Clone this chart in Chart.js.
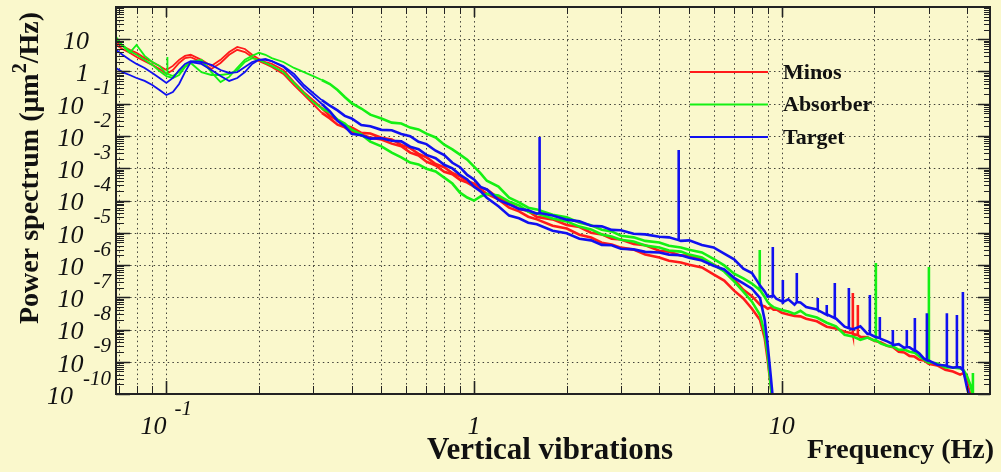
<!DOCTYPE html>
<html>
<head>
<meta charset="utf-8">
<script src="https://cdn.jsdelivr.net/npm/chart.js@4.4.1/dist/chart.umd.min.js"></script>
<style>
  html, body { margin: 0; padding: 0; background: #faf8cc; }
  #wrap { width: 1001px; height: 472px; }
</style>
</head>
<body>
<div id="wrap"><canvas id="psd" width="1001" height="472"></canvas></div>
<script>
// frequency grid (Hz) shared by all traces
const freq = [0.0686, 0.072, 0.076, 0.08, 0.085, 0.09, 0.095, 0.1, 0.105, 0.11, 0.115, 0.12,
  0.13, 0.14, 0.15, 0.16, 0.17, 0.18, 0.19, 0.2, 0.21, 0.22,
  0.24, 0.26, 0.28, 0.3, 0.32, 0.34, 0.36, 0.38, 0.4,
  0.43, 0.46, 0.5, 0.54, 0.58, 0.62, 0.66, 0.7, 0.75, 0.8, 0.85, 0.9, 0.95, 1.0,
  1.05, 1.1, 1.2, 1.3, 1.4, 1.5, 1.6, 1.8, 2.0,
  2.2, 2.4, 2.6, 2.8, 3.0, 3.3, 3.6, 4.0, 4.3, 4.7, 5.0, 5.5, 6.0, 6.5, 7.0, 7.5, 8.0, 8.5, 8.8, 9.0, 9.2, 9.4, 9.6, 10,
  10.5, 11, 11.5, 12, 13, 14, 15, 16, 17, 18, 19, 20,
  21, 22, 23, 24, 25, 26, 27, 28, 29, 30,
  32, 34, 36, 38, 39, 40, 41, 42];

// power spectra, um^2/Hz
const minos1 = [8.2, 6.2, 4.7, 3.8, 2.6, 1.97, 1.49, 1.11, 1.49, 2.3, 3.05, 3.3,
  2.3, 1.49, 2.3, 4.0, 5.8, 5.0, 3.3, 2.45, 1.97, 1.72,
  1.11, 0.47, 0.23, 0.13, 7.4e-2, 4.15e-2, 3.1e-2, 2.1e-2, 1.85e-2,
  1.25e-2, 1.2e-2, 8.8e-3, 7.8e-3, 5.3e-3, 4.2e-3, 2.8e-3, 2.2e-3, 1.35e-3, 1.08e-3, 7.1e-4, 5.6e-4, 4.0e-4, 3.3e-4,
  2.5e-4, 2.2e-4, 1.2e-4, 8.3e-5, 5.5e-5, 4.7e-5, 3.1e-5, 2.6e-5, 1.75e-5,
  1.5e-5, 1.0e-5, 8.9e-6, 6.5e-6, 6.2e-6, 4.5e-6, 4.1e-6, 2.75e-6, 2.6e-6, 1.95e-6, 2.0e-6, 1.45e-6, 1.05e-6, 6.6e-7, 3.6e-7, 1.7e-7, 1.08e-7, 5.8e-8, 5.2e-8, 4.4e-8, 4.8e-8, 4.1e-8, 4.2e-8, 3.3e-8,
  2.9e-8, 2.65e-8, 2.55e-8, 2.15e-8, 1.8e-8, 1.22e-8, 1.08e-8, 8.5e-9, 7.6e-9, 5.9e-9, 5.7e-9, 4.5e-9,
  3.95e-9, 3.15e-9, 2.8e-9, 2.05e-9, 1.95e-9, 1.52e-9, 1.45e-9, 1.15e-9, 1.1e-9, 8.7e-10,
  7.7e-10, 5.6e-10, 5.0e-10, 4.0e-10, 4.45e-10, 2.35e-10, 9.2e-11, null];
const minos2 = [6.7, 5.0, 3.8, 2.8, 2.1, 1.6, 1.2, 0.84, 1.11, 1.84, 2.6, 2.8,
  1.97, 1.2, 1.84, 3.3, 4.7, 4.0, 2.8, 2.1, 1.72, 1.39,
  0.84, 0.38, 0.187, 9.8e-2, 5.2e-2, 3.5e-2, 2.25e-2, 1.85e-2, 1.35e-2,
  1.12e-2, 8.9e-3, 7.8e-3, 5.8e-3, 4.8e-3, 3.05e-3, 2.5e-3, 1.6e-3, 1.22e-3, 7.8e-4, 6.5e-4, 4.4e-4, 3.6e-4, 2.7e-4,
  2.2e-4, 1.6e-4, 1.08e-4, 6.0e-5, 4.6e-5, 3.15e-5, 2.6e-5, 1.66e-5, 1.35e-5,
  8.7e-6, 7.1e-6, 4.9e-6, 4.3e-6, 3.45e-6, 3.0e-6, 2.1e-6, 1.7e-6, 1.36e-6, 1.2e-6, 1.02e-6, 8.4e-7, 5.1e-7, 3.3e-7, 1.6e-7, 9.2e-8, 4.4e-8, 1.96e-8, 5.4e-9, 1.12e-9, 1.9e-10, 3.2e-11];
const absorber1 = [12, 6.2, 3.8, 6.7, 3.05, 1.97, 1.49, 0.84, 0.72, 0.96, 1.49, 1.97,
  2.3, 0.96, 0.47, 0.68, 1.29, 2.3, 3.05, 3.8, 3.3, 2.6,
  1.97, 1.29, 0.96, 0.72, 0.545, 0.41, 0.267, 0.162, 0.105,
  7.1e-2, 4.6e-2, 3.5e-2, 2.6e-2, 2.45e-2, 1.82e-2, 1.6e-2, 1.18e-2, 9.0e-3, 5.4e-3, 3.85e-3, 2.65e-3, 1.85e-3, 1.12e-3,
  6.9e-4, 4.1e-4, 2.7e-4, 1.22e-4, 8.8e-5, 6.0e-5, 5.3e-5, 3.6e-5, 3.0e-5,
  2.05e-5, 1.7e-5, 1.24e-5, 1.1e-5, 8.1e-6, 7.2e-6, 5.6e-6, 5.0e-6, 3.95e-6, 3.5e-6, 2.95e-6, 2.45e-6, 1.56e-6, 9.7e-7, 5.4e-7, 3.85e-7, 2.65e-7, 1.68e-7, 1.02e-7, 7.1e-8, 5.7e-8, 4.95e-8, 4.6e-8, 4.0e-8,
  3.6e-8, 3.05e-8, 3.8e-8, 2.85e-8, 2.35e-8, 1.62e-8, 1.25e-8, 6.9e-9, 6.1e-9, 4.8e-9, 5.6e-9, 4.5e-9,
  3.65e-9, 3.15e-9, 2.95e-9, 2.35e-9, 2.4e-9, 2.05e-9, 1.92e-9, 1.45e-9, 1.16e-9, 9.4e-10,
  8.8e-10, 6.6e-10, 6.6e-10, 6.2e-10, 5.5e-10, 3.6e-10, 1.9e-10, 7.5e-11];
const absorber2 = [9.5, 6.7, 4.3, 3.3, 2.3, 1.6, 1.04, 0.72, 0.63, 0.78, 1.39, 1.84,
  0.96, 0.78, 0.78, 0.84, 1.11, 1.97, 2.6, 2.3, 1.84, 1.49,
  0.96, 0.44, 0.215, 0.113, 7.1e-2, 5.4e-2, 3.2e-2, 2.45e-2, 1.56e-2,
  1.12e-2, 6.7e-3, 4.75e-3, 3.05e-3, 2.18e-3, 1.5e-3, 1.32e-3, 9.7e-4, 7.9e-4, 5.1e-4, 3.35e-4, 1.75e-4, 1.24e-4, 9.9e-5,
  1.33e-4, 1.62e-4, 1.43e-4, 9.2e-5, 7.0e-5, 4.5e-5, 3.95e-5, 2.75e-5, 2.25e-5,
  1.55e-5, 1.27e-5, 8.8e-6, 7.6e-6, 6.1e-6, 5.35e-6, 4.0e-6, 3.5e-6, 2.8e-6, 2.6e-6, 2.1e-6, 1.7e-6, 1.03e-6, 6.3e-7, 3.1e-7, 1.5e-7, 7.3e-8, 2.8e-8, 7.7e-9, 1.6e-9, 1.9e-10, 3.2e-11];
const target1 = [4.7, 3.3, 2.3, 1.72, 1.29, 0.9, 0.63, 0.44, 0.63, 1.11, 1.72, 2.1,
  1.97, 1.6, 1.11, 0.9, 0.96, 1.39, 1.97, 2.3, 2.3, 2.1,
  1.49, 0.84, 0.38, 0.215, 0.13, 8.7e-2, 6.2e-2, 4.2e-2, 3.5e-2,
  2.2e-2, 2.0e-2, 1.55e-2, 1.5e-2, 1.16e-2, 9.8e-3, 6.6e-3, 5.6e-3, 3.5e-3, 2.55e-3, 1.48e-3, 1.08e-3, 6.2e-4, 4.5e-4,
  2.65e-4, 2.2e-4, 1.04e-4, 7.6e-5, 5.5e-5, 4.95e-5, 3.9e-5, 3.45e-5, 2.55e-5,
  2.25e-5, 1.65e-5, 1.58e-5, 1.23e-5, 1.19e-5, 9.3e-6, 8.9e-6, 7.5e-6, 7.2e-6, 5.6e-6, 5.8e-6, 4.2e-6, 3.5e-6, 2.25e-6, 1.5e-6, 7.7e-7, 5.6e-7, 2.3e-7, 1.52e-7, 1.04e-7, 1.07e-7, 1.14e-7, 9.0e-8, 7.5e-8,
  8.6e-8, 5.9e-8, 6.9e-8, 5.0e-8, 4.2e-8, 2.85e-8, 2.2e-8, 1.22e-8, 1.01e-8, 1.25e-8, 7.3e-9, 6.1e-9,
  5.1e-9, 4.3e-9, 3.3e-9, 3.5e-9, 2.7e-9, 2.8e-9, 2.2e-9, 1.8e-9, 1.24e-9, 1.1e-9,
  8.1e-10, 7.7e-10, 6.5e-10, 6.7e-10, 4.8e-10, 1.53e-10, 6.5e-11, null];
const target2 = [1.29, 0.96, 0.78, 0.63, 0.51, 0.38, 0.267, 0.187, 0.23, 0.41, 0.96, 1.97,
  1.72, 1.11, 0.72, 0.51, 0.63, 0.96, 1.72, 2.3, 2.45, 2.1,
  1.39, 0.68, 0.31, 0.174, 9.8e-2, 5.8e-2, 2.95e-2, 2.0e-2, 1.17e-2,
  1.05e-2, 8.3e-3, 8.5e-3, 7.1e-3, 6.8e-3, 4.65e-3, 3.9e-3, 2.6e-3, 2.05e-3, 1.28e-3, 9.9e-4, 6.3e-4, 4.5e-4, 2.65e-4,
  1.92e-4, 1.22e-4, 6.6e-5, 3.4e-5, 2.8e-5, 2.05e-5, 1.83e-5, 1.16e-5, 9.6e-6,
  6.5e-6, 5.8e-6, 4.2e-6, 4.1e-6, 3.2e-6, 3.05e-6, 2.55e-6, 2.45e-6, 2.1e-6, 2.0e-6, 1.68e-6, 1.38e-6, 9.5e-7, 7.3e-7, 4.0e-7, 2.7e-7, 1.85e-7, 9.4e-8, 1.96e-8, 3.3e-9, 3.9e-10, 4.5e-11];

// narrow lines: [frequency, foot, peak]
const minosSpikes = [[17.02, 7.2e-9, 1.35e-7], [17.67, 6.7e-9, 5.7e-8]];
const absorberSpikes = [[0.1008, 0.84, 2.8], [8.48, 1.68e-7, 2.9e-6], [20.22, 4.7e-9, 1.15e-6],
  [30.07, 9.8e-10, 8.7e-7], [41.8, 9.2e-11, 4.45e-10]];
const targetSpikes = [[1.633, 4.1e-5, 9.3e-3], [4.624, 5.9e-6, 3.7e-3], [9.35, 1.09e-7, 3.6e-6],
  [10.08, 7.1e-8, 3.4e-7], [11.19, 7.1e-8, 5.65e-7], [13.09, 4.0e-8, 9.4e-8], [14.0, 3.0e-8, 5.7e-8],
  [14.87, 2.26e-8, 2.77e-7], [16.52, 1.1e-8, 1.94e-7], [19.33, 7.2e-9, 1.17e-7], [20.83, 5.4e-9, 2.43e-8],
  [22.96, 3.5e-9, 9.6e-9], [25.49, 2.85e-9, 9.6e-9], [27.07, 2.3e-9, 2.26e-8], [29.62, 1.12e-9, 3.2e-8],
  [34.4, 7.35e-10, 3.2e-8], [37.08, 6.85e-10, 2.8e-8], [38.78, 5.5e-10, 1.45e-7]];

// axis decoration
const xMajor = [0.1, 1, 10];
const xTickBase = ['10', '1', '10'];
const xTickExp = ['-1', '', ''];
const xMinor = [0.07, 0.08, 0.09, 0.2, 0.3, 0.4, 0.5, 0.6, 0.7, 0.8, 0.9,
  2, 3, 4, 5, 6, 7, 8, 9, 20, 30, 40];
const yMajor = [1e1, 1, 1e-1, 1e-2, 1e-3, 1e-4, 1e-5, 1e-6, 1e-7, 1e-8, 1e-9, 1e-10];
const yTickBase = ['10', '1', '10', '10', '10', '10', '10', '10', '10', '10', '10', '10'];
const yTickExp = ['', '', '-1', '-2', '-3', '-4', '-5', '-6', '-7', '-8', '-9', '-10'];
const legendNames = ['Minos', 'Absorber', 'Target'];

const RED = '#ff1a1a', GREEN = '#14f014', BLUE = '#1010f0';
const SERIF = '"Liberation Serif", "Times New Roman", Times, serif';

function trace(pow, spikes) {
  const pts = freq.map((f, i) => ({ x: f, y: pow[i] === undefined ? null : pow[i] }));
  spikes.forEach(([f, foot, peak]) => {
    pts.push({ x: f, y: foot }, { x: f, y: peak }, { x: f, y: foot });
  });
  return pts.sort((a, b) => a.x - b.x);
}

const yMinor = [];
for (let k = -10; k <= 1; k++) {
  for (let m = 2; m <= 9; m++) yMinor.push(m * Math.pow(10, k));
}

function drawPower(ctx, base, exp, x, y, align) {
  ctx.font = 'italic 26px ' + SERIF;
  const wB = ctx.measureText(base).width;
  ctx.font = 'italic 21px ' + SERIF;
  const wE = exp ? ctx.measureText(exp).width : 0;
  let left;
  if (align === 'center') {
    left = x - (wB + (exp ? 8 + wE : 0)) / 2;
  } else {
    left = exp ? x - wE - 10 - wB : x - wB - 22;
  }
  ctx.textAlign = 'left';
  ctx.textBaseline = 'middle';
  ctx.font = 'italic 26px ' + SERIF;
  ctx.fillText(base, left, y);
  if (exp) {
    ctx.font = 'italic 21px ' + SERIF;
    ctx.fillText(exp, left + wB + (align === 'center' ? 8 : 10), y - 18);
  }
}

const rootStyle = {
  id: 'rootStyle',
  beforeDatasetsDraw(chart) {
    const { ctx, chartArea: a, scales: { x, y } } = chart;
    ctx.save();
    ctx.strokeStyle = 'rgba(20,20,20,0.8)';
    ctx.lineWidth = 1;
    ctx.setLineDash([1.5, 3.2]);
    ctx.beginPath();
    xMajor.concat(xMinor).forEach(v => {
      const px = Math.round(x.getPixelForValue(v)) + 0.5;
      ctx.moveTo(px, a.top);
      ctx.lineTo(px, a.bottom);
    });
    yMajor.forEach(v => {
      const py = Math.round(y.getPixelForValue(v)) + 0.5;
      ctx.moveTo(a.left, py);
      ctx.lineTo(a.right, py);
    });
    ctx.stroke();
    ctx.restore();
  },
  afterDatasetsDraw(chart) {
    const { ctx, chartArea: a, scales: { x, y } } = chart;
    ctx.save();
    ctx.strokeStyle = '#222';
    ctx.setLineDash([]);

    // ticks, drawn inside the frame
    const tickSet = (vals, len, lenTop, width, axis) => {
      ctx.lineWidth = width;
      ctx.beginPath();
      vals.forEach(v => {
        if (axis === 'x') {
          const px = Math.round(x.getPixelForValue(v)) + 0.5;
          ctx.moveTo(px, a.bottom); ctx.lineTo(px, a.bottom - len);
          ctx.moveTo(px, a.top); ctx.lineTo(px, a.top + lenTop);
        } else {
          const py = Math.round(y.getPixelForValue(v)) + 0.5;
          ctx.moveTo(a.left, py); ctx.lineTo(a.left + len, py);
          ctx.moveTo(a.right, py); ctx.lineTo(a.right - lenTop, py);
        }
      });
      ctx.stroke();
    };
    tickSet(xMinor, 8, 7, 1, 'x');
    tickSet(xMajor, 13, 10, 1.6, 'x');
    tickSet(yMinor.filter(v => v < 100), 8, 6, 1, 'y');
    tickSet(yMajor, 14, 12, 1.6, 'y');

    ctx.lineWidth = 2;
    ctx.strokeRect(a.left, a.top, a.right - a.left, a.bottom - a.top);

    // tick labels
    ctx.fillStyle = '#111';
    xMajor.forEach((v, i) => drawPower(ctx, xTickBase[i], xTickExp[i], x.getPixelForValue(v), 427, 'center'));
    yMajor.forEach((v, i) => drawPower(ctx, yTickBase[i], yTickExp[i], 111, y.getPixelForValue(v) + 3, 'right'));

    // legend
    legendNames.forEach((name, i) => {
      const ds = chart.data.datasets.find(d => d.label === name);
      const ly = a.top + 65 + i * 32.5;
      ctx.strokeStyle = ds.borderColor;
      ctx.lineWidth = 2;
      ctx.beginPath();
      ctx.moveTo(a.right - 300, ly);
      ctx.lineTo(a.right - 222, ly);
      ctx.stroke();
      ctx.fillStyle = '#111';
      ctx.font = 'bold 22px ' + SERIF;
      ctx.textAlign = 'left';
      ctx.textBaseline = 'middle';
      ctx.fillText(name, a.right - 207, ly + 1);
    });

    // axis titles
    ctx.fillStyle = '#111';
    ctx.textBaseline = 'alphabetic';
    ctx.textAlign = 'left';
    ctx.font = 'bold 31px ' + SERIF;
    ctx.fillText('Vertical vibrations', 427, 459);
    ctx.font = 'bold 28px ' + SERIF;
    ctx.textAlign = 'right';
    ctx.fillText('Frequency (Hz)', 994, 458);

    // rotated y title with superscript
    ctx.save();
    ctx.translate(38, 168);
    ctx.rotate(-Math.PI / 2);
    const p1 = 'Power spectrum (\u03bcm', p2 = '2', p3 = '/Hz)';
    ctx.font = 'bold 28px ' + SERIF;
    const w1 = ctx.measureText(p1).width, w3 = ctx.measureText(p3).width;
    ctx.font = 'bold 20px ' + SERIF;
    const w2 = ctx.measureText(p2).width;
    const cx = -(w1 + w2 + w3) / 2;
    ctx.textAlign = 'left';
    ctx.font = 'bold 28px ' + SERIF;
    ctx.fillText(p1, cx, 0);
    ctx.font = 'bold 20px ' + SERIF;
    ctx.fillText(p2, cx + w1, -12);
    ctx.font = 'bold 28px ' + SERIF;
    ctx.fillText(p3, cx + w1 + w2, 0);
    ctx.restore();

    ctx.restore();
  }
};

// thicker above ~0.3 Hz where the measured spectra are noisy
const common = {
  pointRadius: 0, borderWidth: 1.8, tension: 0, spanGaps: false, fill: false,
  segment: { borderWidth: c => (c.p0.parsed.x > 0.3 ? 2.6 : 1.8) }
};

new Chart(document.getElementById('psd'), {
  type: 'line',
  data: {
    datasets: [
      { ...common, label: 'Minos', data: trace(minos1, minosSpikes), borderColor: RED, order: 2 },
      { ...common, label: 'Minos (2)', data: trace(minos2, []), borderColor: RED, order: 2 },
      { ...common, label: 'Absorber', data: trace(absorber1, absorberSpikes), borderColor: GREEN, order: 1 },
      { ...common, label: 'Absorber (2)', data: trace(absorber2, []), borderColor: GREEN, order: 1 },
      { ...common, label: 'Target', data: trace(target1, targetSpikes), borderColor: BLUE, order: 0 },
      { ...common, label: 'Target (2)', data: trace(target2, []), borderColor: BLUE, order: 0 }
    ]
  },
  options: {
    responsive: false,
    animation: false,
    devicePixelRatio: 1,
    layout: { padding: { left: 116, right: 11, top: 7, bottom: 78 } },
    scales: {
      x: { type: 'logarithmic', min: 0.0686, max: 47.5, display: false },
      y: { type: 'logarithmic', min: 1e-10, max: 100, display: false }
    },
    plugins: {
      legend: { display: false },
      tooltip: { enabled: false }
    }
  },
  plugins: [rootStyle]
});
</script>
</body>
</html>
